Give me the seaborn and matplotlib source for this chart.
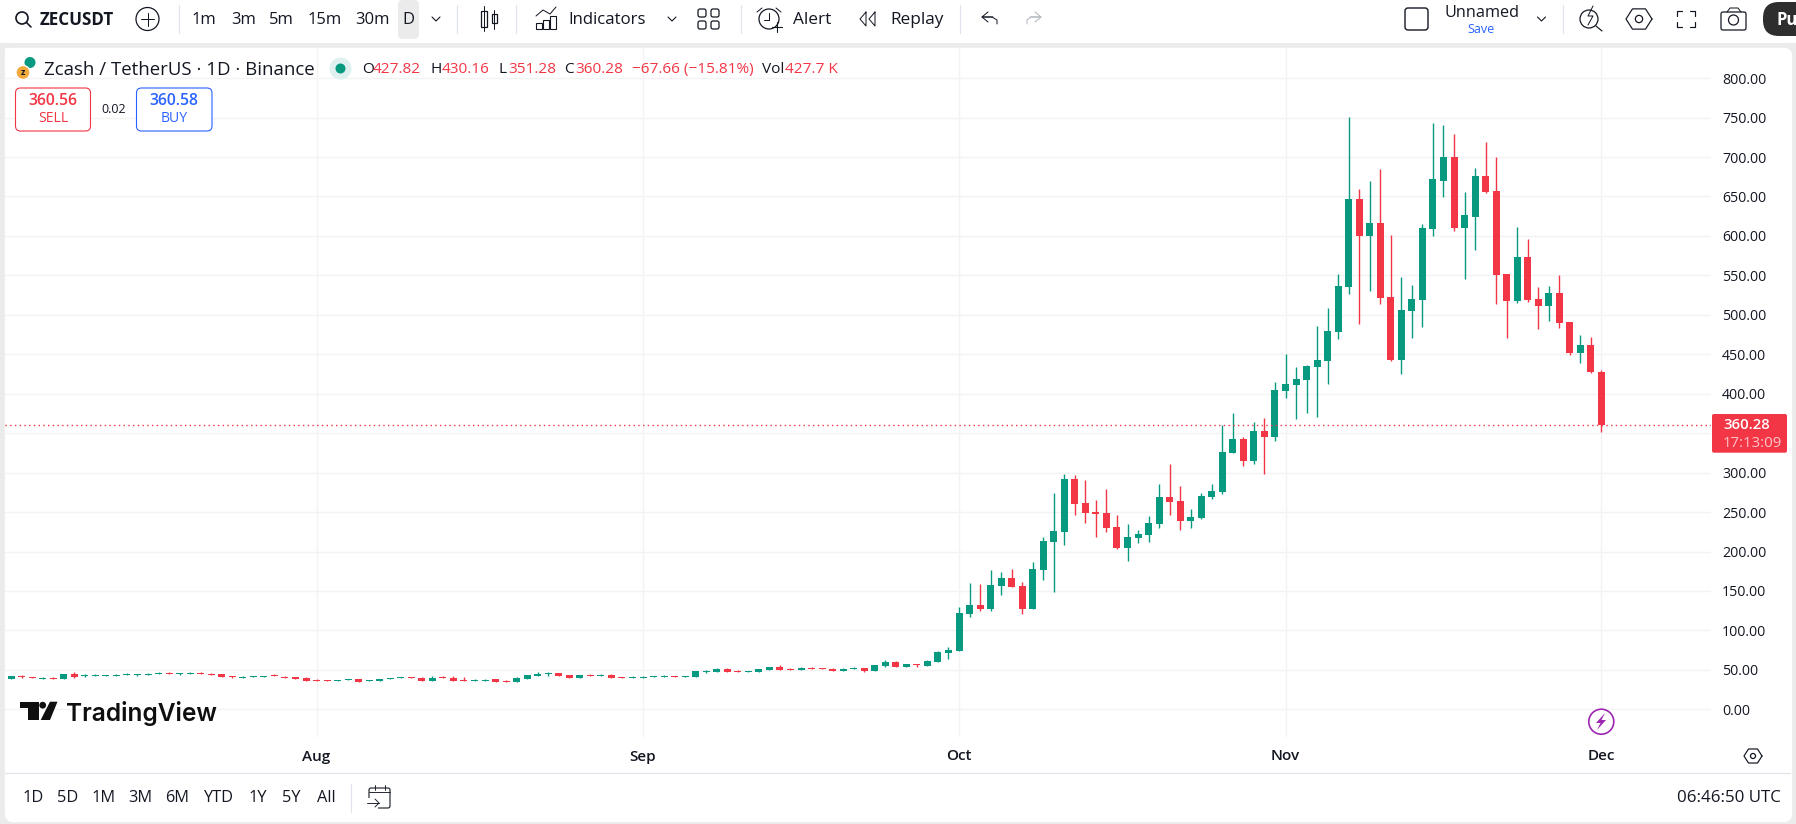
import numpy as np
import pandas as pd
import seaborn as sns
import matplotlib
matplotlib.use("Agg")
import matplotlib.pyplot as plt
from matplotlib.patches import Rectangle, FancyBboxPatch, Circle, Polygon

# daily candles, 3 Jul to 1 Dec
opens = [38.4,42.6,40.9,38.8,40.0,38.4,44.7,41.7,41.7,42.6,
         42.6,43.0,43.4,43.9,45.1,46.0,44.7,45.1,46.0,45.1,
         44.7,42.2,39.6,41.3,41.3,43.0,41.3,40.9,39.6,37.1,
         37.1,36.3,37.5,38.4,36.3,36.3,38.4,39.6,40.5,39.6,
         36.3,40.9,39.6,37.1,36.3,36.3,38.4,35.8,34.6,38.4,
         42.2,44.7,46.0,43.4,39.6,43.4,42.2,43.4,40.9,39.6,
         39.6,40.9,40.9,42.2,40.9,40.9,47.2,47.2,51.0,48.5,
         47.2,47.2,49.8,53.6,51.0,49.8,52.3,52.3,51.0,48.5,
         51.0,52.3,48.5,54.8,59.9,53.6,57.4,54.8,59.9,71.4,
         73.7,120.7,132,127,156,166.5,156,127,176.4,211.8,
         224.4,291.9,261.5,250.2,248.9,230.8,204.5,217.2,220.8,234.8,
         268.8,263.8,238.5,242.5,268.8,275.1,324.9,342.6,314.7,352.7,
         345.1,403.4,411,417.3,433.8,441.4,478.1,535.2,646.7,599.8,
         616.3,522.5,442.7,504.8,518.7,608.7,669.5,700,610,623.9,
         675.9,656.9,551.7,517.4,573.2,520,511,527.6,490.8,451.5,
         461.7,427.82]
closes = [42.6,41.3,40.0,40.0,38.8,44.7,41.3,43.0,43.0,43.9,
          43.9,44.3,44.7,45.1,46.0,44.7,46.0,46.4,44.7,43.9,
          41.3,41.3,40.9,42.2,42.2,41.7,40.0,38.4,36.3,36.3,
          36.3,37.1,38.4,35.0,37.1,38.4,39.2,40.5,39.6,36.3,
          39.6,39.6,36.3,36.3,37.1,37.1,35.0,34.6,39.6,43.4,
          44.7,46.0,42.2,39.6,43.4,42.2,43.4,39.6,39.6,40.9,
          40.9,42.2,42.2,40.9,42.2,48.5,48.5,51.0,47.2,47.2,
          48.5,51.0,53.6,49.8,49.8,52.3,51.0,51.0,48.5,51.0,
          52.3,48.5,56.1,59.9,53.6,57.4,56.1,61.2,72.6,75.0,
          122.1,132,127,157.4,166.5,154.7,127,177.8,213,225.8,
          291.9,260.2,248.9,247.5,229.9,204.5,218.1,222.2,236.2,268.8,
          262.4,238.5,243.4,270.1,276.5,325.8,342.6,314.7,352.7,345.1,
          404.7,412.2,418.6,435,442.7,479.4,536.4,646.7,599.8,616.3,
          521.2,442.7,506,520,610,672.1,700,610,626.4,675.9,
          655.6,550.4,517.4,573.2,518.7,511,527.6,489.5,451.5,461.7,
          427.4,360.28]
highs = [42.6,43.4,40.9,41.3,41.3,44.7,47.2,44.3,45.1,43.9,
         45.1,46.0,44.7,46.4,47.2,47.2,46.0,47.6,47.2,46.4,
         44.7,42.2,42.2,42.2,42.2,44.7,42.6,40.9,40.9,38.4,
         37.1,37.1,38.4,38.4,37.1,38.4,39.2,40.5,40.5,40.9,
         42.2,42.2,42.2,40.9,38.4,38.4,38.4,37.1,40.9,43.4,
         47.2,47.2,46.0,43.4,43.4,44.7,44.7,44.7,40.9,42.2,
         42.2,42.2,43.4,42.2,42.2,48.5,49.8,52.3,52.3,49.8,
         48.5,51.0,53.6,56.1,52.3,53.6,53.6,52.3,52.3,52.3,
         53.6,52.3,56.1,62.5,61.2,57.4,57.4,62.5,73.9,78.6,
         129.3,160,158.8,176.4,173.7,177.8,161,186.4,218,274.2,
         298.2,296.9,290.5,265.2,279.2,246.2,234.8,227.1,244.8,285.5,
         310.9,282.8,253.9,274.2,285.5,360.2,375.6,344.7,364.1,369.2,
         414.8,450.3,433.8,436.3,485.7,508.6,551.7,750.7,659.4,669.5,
         684.7,601,547.8,537.7,615,743,740.5,729.1,655.6,686,
         719,700,551.7,611.2,596,535.2,536.4,550.4,490.8,474.3,
         471.8,430.16]
lows = [38.4,40.0,40.0,37.9,38.4,38.4,39.6,40.9,41.7,41.7,
        42.6,43.0,42.2,43.9,45.1,44.7,43.9,45.1,44.7,43.9,
        41.3,40.0,39.6,41.3,41.3,41.7,40.0,38.4,36.3,36.3,
        36.3,36.3,37.5,35.0,36.3,36.3,38.4,39.6,39.6,36.3,
        36.3,39.6,36.3,36.3,36.3,36.3,35.0,34.6,34.6,38.4,
        42.2,42.2,42.2,39.6,39.6,42.2,42.2,39.6,39.6,39.6,
        39.6,40.9,40.9,40.9,40.9,40.9,46.0,47.2,47.2,47.2,
        47.2,47.2,49.8,49.8,49.8,49.8,51.0,51.0,48.5,48.5,
        51.0,47.2,48.5,53.6,53.6,53.6,53.6,54.8,59.9,63.7,
        73.7,116.7,124.4,124.4,144.8,154.7,120.7,127,163.8,148.4,
        208.1,246.2,236.2,218.1,224.4,203.2,187.8,210.8,211.8,229.9,
        246.2,227.1,229.9,241.2,266.5,272.9,324.9,308.3,310.9,298.2,
        340.4,394.5,367.9,375.5,370.4,412.2,469.3,526.3,488.3,530.1,
        513.6,441.4,424.9,470.5,484.5,599.8,649.2,606.2,545.3,582.1,
        654.3,513.6,470.5,514.9,516.2,482,492.1,483.2,449,438.8,
        426.2,351.28]

month_days = [29, 60, 90, 121, 151]
month_labels = ["Aug", "Sep", "Oct", "Nov", "Dec"]
price_ticks = list(range(0, 801, 50))
last_price = 360.28

GREEN = "#089981"
RED = "#f23645"
BLUE = "#2962ff"
INK = "#131722"
W, H = 1796, 824

sns.set_theme(style="whitegrid", rc={"grid.color": "#f3f3f4", "grid.linewidth": 1.0, "axes.edgecolor": "none"})
plt.rcParams["font.family"] = ["Open Sans", "DejaVu Sans"]

df = pd.DataFrame({"day": np.arange(len(opens)), "open": opens, "high": highs, "low": lows, "close": closes})
df["dir"] = np.where(df["close"] >= df["open"], "up", "down")
df["bottom"] = df[["open", "close"]].min(axis=1)
df["size"] = (df["open"] - df["close"]).abs()
wicks = df.melt(id_vars=["day", "dir"], value_vars=["low", "high"], value_name="price")
colors = {"up": GREEN, "down": RED}

fig = plt.figure(figsize=(W / 100, H / 100), dpi=100, facecolor="#ebebeb")


def pane(x0, y0, x1, y1):
    # axes from pixel box, y counted from the top
    return [x0 / W, 1 - y1 / H, (x1 - x0) / W, (y1 - y0) / H]


bg = fig.add_axes([0, 0, 1, 1], zorder=0)
bg.set_xlim(0, W)
bg.set_ylim(H, 0)
bg.axis("off")
bg.add_patch(Rectangle((0, 0), W, 43, color="white", lw=0))
bg.add_patch(FancyBboxPatch((9, 52), 1779, 766, boxstyle="round,pad=0,rounding_size=4", fc="white", ec="white", lw=6))

ax = fig.add_axes(pane(5, 48, 1711, 737), zorder=1, facecolor="white")
sns.lineplot(data=wicks, x="day", y="price", hue="dir", units="day", estimator=None, palette=colors,
             lw=1.0, legend=False, ax=ax, solid_capstyle="butt")
for name, part in df.groupby("dir"):
    sns.barplot(data=part, x="day", y="size", bottom=part["bottom"].values, native_scale=True, color=colors[name],
                saturation=1, width=0.665, linewidth=0, errorbar=None, ax=ax)
ax.axhline(last_price, color=RED, lw=1, ls=(0, (1, 2.4)))
ax.set_xlim(-0.58, 161.4)
ax.set_ylim(-35.1, 838.2)
ax.set_xlabel("")
ax.set_ylabel("")
ax.set_xticks(month_days)
ax.set_xticklabels(month_labels, fontsize=11, fontweight="semibold", color=INK)
ax.yaxis.tick_right()
ax.set_yticks(price_ticks)
ax.set_yticklabels(["" if p == 350 else f"{p:.2f}" for p in price_ticks], fontsize=10.2, color=INK, ha="left")
ax.tick_params(axis="x", length=0, pad=9)
ax.tick_params(axis="y", length=0, pad=8)
ax.grid(True, axis="both")
ax.set_axisbelow(True)
for s in ax.spines.values():
    s.set_visible(False)

ui = fig.add_axes([0, 0, 1, 1], zorder=2)
ui.set_xlim(0, W)
ui.set_ylim(H, 0)
ui.axis("off")
ui.patch.set_alpha(0)


def label(x, y, s, size=14, color=INK, ha="left", weight="normal", family=None):
    kw = {"family": family} if family else {}
    ui.text(x, y, s, fontsize=size * 0.72, color=color, ha=ha, va="center", fontweight=weight, **kw)


def line(xs, ys, color=INK, lw=1.0):
    ui.plot(xs, ys, color=color, lw=lw * 0.72, solid_capstyle="round", solid_joinstyle="round")


def sep(x, y0=5, y1=33):
    line([x, x], [y0, y1], "#e0e3eb", 1.2)


def chevron(x, y=19):
    line([x - 4, x, x + 4], [y - 2, y + 2, y - 2], INK, 1.1)


def hex_icon(x, y, r=10):
    a = np.deg2rad(np.arange(0, 361, 60))
    line(x + r * np.cos(a), y + r * np.sin(a) * 0.9, INK, 1.2)
    ui.add_patch(Circle((x, y), r * 0.28, fc="none", ec=INK, lw=0.9))


# top toolbar
ui.add_patch(Circle((22, 18), 6, fc="none", ec=INK, lw=1.2))
line([26.5, 31], [22.5, 27], INK, 1.6)
label(40, 19.5, "ZECUSDT", 17, weight="bold")
ui.add_patch(Circle((147.5, 19), 11.5, fc="none", ec=INK, lw=0.9))
line([141, 154], [19, 19])
line([147.5, 147.5], [12.5, 25.5])
sep(178.5)
for x, s in [(192, "1m"), (231, "3m"), (269, "5m"), (308, "15m"), (355, "30m")]:
    label(x, 19.5, s, 16.6)
ui.add_patch(FancyBboxPatch((398, 0), 21, 39, boxstyle="round,pad=0,rounding_size=5", fc="#ebebeb", ec="none"))
label(408.5, 19.5, "D", 16.6, ha="center")
chevron(436)
sep(457)
# candle style icon
ui.add_patch(Rectangle((481, 11), 6, 16, fc="none", ec=INK, lw=0.9))
line([484, 484], [6, 31])
ui.add_patch(Rectangle((491.5, 14), 5, 9, fc="none", ec=INK, lw=0.9))
line([494, 494], [10, 29])
sep(515.5)
# indicators icon
line([536, 543, 550, 556], [16, 10, 14, 7], INK, 1.0)
for bx, bh in [(536, 6), (543, 9), (550, 13)]:
    ui.add_patch(Rectangle((bx, 29 - bh), 6, bh, fc="none", ec=INK, lw=0.8))
label(568, 19.5, "Indicators", 16.8)
chevron(672)
for gx in (702, 715):
    for gy in (13, 25):
        ui.add_patch(FancyBboxPatch((gx - 4, gy - 4), 8, 8, boxstyle="round,pad=0,rounding_size=2", fc="none", ec=INK, lw=0.9))
sep(740.5)
# alert icon
ui.add_patch(Circle((769, 19), 10, fc="none", ec=INK, lw=0.9))
line([769, 769, 764], [13, 20, 20])
line([757, 762], [12, 8])
line([781, 776], [12, 8])
line([772, 782], [27, 27], INK, 1.1)
line([777, 777], [22, 32], INK, 1.1)
label(793, 19.5, "Alert", 17.2)
line([866, 860, 866, 866], [12, 19, 26, 12])
line([875, 869, 875, 875], [12, 19, 26, 12])
label(890, 19.5, "Replay", 17.2)
sep(959.5)
line([993, 982, 988], [17, 17, 12])
line([982, 988], [17, 22])
line([983, 992, 997, 997], [17, 17, 20, 24])
line([1030, 1041, 1035], [17, 17, 12], "#b2b5be")
line([1041, 1035], [17, 22], "#b2b5be")
line([1040, 1031, 1027, 1027], [17, 17, 20, 24], "#b2b5be")
ui.add_patch(FancyBboxPatch((1405, 8), 23, 22, boxstyle="round,pad=0,rounding_size=3", fc="none", ec=INK, lw=1.0))
label(1482, 13, "Unnamed", 16.3, ha="center", weight="medium")
label(1481, 29, "Save", 12.5, BLUE, ha="center")
chevron(1541.5)
sep(1563)
ui.add_patch(Circle((1589, 19), 9, fc="none", ec=INK, lw=0.9))
line([1596, 1602], [26, 31], INK, 1.2)
line([1593, 1588, 1593, 1588], [6, 16, 16, 25], INK, 1.0)
hex_icon(1639, 19, 13)
for fx, fy, dx, dy in [(1677, 11, 1, 1), (1695, 11, -1, 1), (1677, 27, 1, -1), (1695, 27, -1, -1)]:
    line([fx, fx, fx + 5 * dx], [fy + 5 * dy, fy, fy], INK, 1.2)
ui.add_patch(FancyBboxPatch((1721, 12), 25, 18, boxstyle="round,pad=0,rounding_size=2", fc="none", ec=INK, lw=0.9))
line([1727, 1730, 1738, 1741], [12, 8, 8, 12], INK, 1.0)
ui.add_patch(Circle((1733.5, 20), 5, fc="none", ec=INK, lw=0.9))
ui.add_patch(FancyBboxPatch((1763, 2), 60, 34, boxstyle="round,pad=0,rounding_size=16", fc="#2e2e2e", ec="none", clip_on=True))
label(1777, 19.5, "Pu", 16.5, "white", weight="bold")

# legend row
ui.add_patch(Circle((30, 62.5), 5.5, fc=GREEN, ec="none"))
ui.add_patch(Circle((23, 72.5), 7, fc="#f0a93a", ec="white", lw=1))
label(23, 72.5, "z", 9, INK, ha="center", weight="bold")
label(44, 69.5, "Zcash / TetherUS · 1D · Binance", 18.6)
ui.add_patch(Circle((340.5, 68.5), 11, fc="#dff1ee", ec="none"))
ui.add_patch(Circle((340.5, 68.5), 5, fc=GREEN, ec="none"))
for x, s, c in [(362, "O", INK), (373, "427.82", RED), (430, "H", INK), (442, "430.16", RED), (498, "L", INK),
                (508, "351.28", RED), (564, "C", INK), (575, "360.28", RED), (631.5, "−67.66 (−15.81%)", RED),
                (762, "Vol", INK), (785, "427.7 K", RED)]:
    label(x, 69.5, s, 15.4, c)

# sell and buy
ui.add_patch(FancyBboxPatch((15.5, 88), 75, 43, boxstyle="round,pad=0,rounding_size=5", fc="white", ec=RED, lw=0.8))
label(53, 101, "360.56", 15.8, RED, ha="center", weight="semibold")
label(53, 118.5, "SELL", 14, RED, ha="center")
label(113.7, 109, "0.02", 12.5, INK, ha="center")
ui.add_patch(FancyBboxPatch((136.5, 88), 75.5, 43, boxstyle="round,pad=0,rounding_size=5", fc="white", ec=BLUE, lw=0.8))
label(174, 101, "360.58", 15.8, BLUE, ha="center", weight="semibold")
label(174, 118.5, "BUY", 14, BLUE, ha="center")

# watermark
ui.add_patch(Polygon([(20, 701.7), (39, 701.7), (39, 720), (28, 720), (28, 708), (20, 708)], fc="#0f0f0f", ec="none"))
ui.add_patch(Circle((42.7, 705.2), 3.4, fc="#0f0f0f", ec="none"))
ui.add_patch(Polygon([(50, 701.7), (57.5, 701.7), (50, 720), (40.7, 720)], fc="#0f0f0f", ec="none"))
label(66, 713.5, "TradingView", 24.5, "#0f0f0f", weight="semibold", family="Inter")

# last price tag
ui.add_patch(FancyBboxPatch((1712, 414), 75, 38.7, boxstyle="round,pad=0,rounding_size=2", fc=RED, ec="none"))
label(1723, 425, "360.28", 15, "white", weight="semibold")
label(1723, 443.5, "17:13:09", 15, "#fbc4c9")

# flash marker and settings
ui.add_patch(Circle((1601.3, 721.7), 12.5, fc="white", ec="#9c27b0", lw=1.2))
ui.add_patch(Polygon([(1605, 713), (1596, 723), (1600.5, 723), (1597, 730), (1606, 720), (1601.5, 720)], fc="#9c27b0", ec="none"))
hex_icon(1753, 756, 9)

# bottom bar
line([5, 1790], [773, 773], "#e0e3eb", 1.2)
for x, s in [(32.7, "1D"), (67.7, "5D"), (103.7, "1M"), (140, "3M"), (176.7, "6M"), (217.7, "YTD"),
             (257.7, "1Y"), (291.7, "5Y"), (326.7, "All")]:
    label(x, 798.5, s, 16.4, ha="center")
sep(350.7, 784, 812)
ui.add_patch(FancyBboxPatch((369, 788), 21, 20, boxstyle="round,pad=0,rounding_size=2", fc="none", ec=INK, lw=0.8))
ui.add_patch(Rectangle((366, 798), 12, 12, fc="white", ec="none"))
line([369, 390], [792, 792], INK, 0.9)
line([375, 375], [785, 790], INK, 0.9)
line([385, 385], [785, 790], INK, 0.9)
line([367, 379], [803, 803], INK, 0.9)
line([375, 379, 375], [799, 803, 807], INK, 0.9)
label(1781, 798.5, "06:46:50 UTC", 16.9, ha="right")

fig.savefig("out.png", dpi=100, facecolor=fig.get_facecolor())
